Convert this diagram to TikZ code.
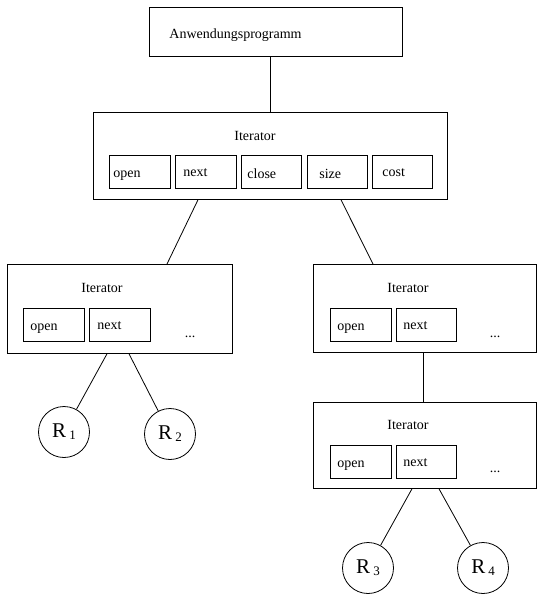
\documentclass[tikz,border=0pt]{standalone}
\usepackage{fontspec}
\setmainfont{Liberation Serif}
\begin{document}
\begin{tikzpicture}[x=1pt,y=-1pt, line width=0.8pt,
  box/.style={draw, rectangle, inner sep=0pt, anchor=north west},
  sub/.style={box, minimum width=61pt, minimum height=33pt},
  lbl/.style={anchor=base west, inner sep=0pt, font=\fontsize{14}{16}\selectfont},
  ctr/.style={anchor=base, inner sep=0pt, font=\fontsize{14}{16}\selectfont},
  rel/.style={draw, circle, minimum size=51pt, inner sep=0pt},
  conn/.style={draw, line width=0.8pt}]
\useasboundingbox (0,0) rectangle (537,595);
\newcommand{\relname}[1]{{\fontsize{21}{24}\selectfont R}\hspace{3pt}\raisebox{-2pt}{\fontsize{13}{15}\selectfont #1}}

% application
\node[box, minimum width=253pt, minimum height=49pt] (app) at (149,7) {};
\node[lbl] (apptxt) at (169,38) {Anwendungsprogramm};

% top iterator
\node[box, minimum width=354pt, minimum height=87pt] (it0) at (93,112) {};
\node[ctr] (it0t) at (255,140) {Iterator};
\node[sub] (it0a) at (109,155) {};
\node[sub] (it0b) at (175,155) {};
\node[sub, minimum width=60pt] (it0c) at (241,155) {};
\node[sub, minimum width=60pt] (it0d) at (307,155) {};
\node[sub, minimum width=60pt] (it0e) at (372,155) {};
\node[lbl] (it0at) at (113,177) {open};
\node[lbl] (it0bt) at (183,176) {next};
\node[lbl] (it0ct) at (247,178) {close};
\node[lbl] (it0dt) at (319,178) {size};
\node[lbl] (it0et) at (382,176) {cost};

% left iterator
\node[box, minimum width=225pt, minimum height=89pt] (it1) at (7,264) {};
\node[ctr] (it1t) at (102,292) {Iterator};
\node[sub] (it1a) at (23,308) {};
\node[sub] (it1b) at (89,308) {};
\node[lbl] (it1at) at (30,330) {open};
\node[lbl] (it1bt) at (97,329) {next};
\node[ctr] (it1d) at (190,337) {...};

% right iterator
\node[box, minimum width=223pt, minimum height=88pt] (it2) at (313,264) {};
\node[ctr] (it2t) at (408,292) {Iterator};
\node[sub] (it2a) at (330,308) {};
\node[sub, minimum width=60pt] (it2b) at (396,308) {};
\node[lbl] (it2at) at (337,330) {open};
\node[lbl] (it2bt) at (403,329) {next};
\node[ctr] (it2d) at (495,337) {...};

% lower right iterator
\node[box, minimum width=223pt, minimum height=86pt] (it3) at (313,402) {};
\node[ctr] (it3t) at (408,429) {Iterator};
\node[sub] (it3a) at (330,445) {};
\node[sub, minimum width=60pt] (it3b) at (396,445) {};
\node[lbl] (it3at) at (337,467) {open};
\node[lbl] (it3bt) at (403,466) {next};
\node[ctr] (it3d) at (495,472) {...};

% relations
\node[rel] (r1) at (64,432) {\relname{1}};
\node[rel] (r2) at (170,434) {\relname{2}};
\node[rel] (r3) at (368,568) {\relname{3}};
\node[rel] (r4) at (483,568) {\relname{4}};

% connectors
\draw[conn] (it0.north) -- (it0.north |- app.south);
\draw[conn] ([xshift=105pt]it0.south west) -- ([xshift=160pt]it1.north west);
\draw[conn] ([xshift=248pt]it0.south west) -- ([xshift=60pt]it2.north west);
\draw[conn] ([xshift=100pt]it1.south west) -- (r1);
\draw[conn] ([xshift=122pt]it1.south west) -- (r2);
\draw[conn] ([xshift=110pt]it2.south west) -- ([xshift=110pt]it3.north west);
\draw[conn] ([xshift=99pt]it3.south west) -- (r3);
\draw[conn] ([xshift=126pt]it3.south west) -- (r4);
\end{tikzpicture}
\end{document}
